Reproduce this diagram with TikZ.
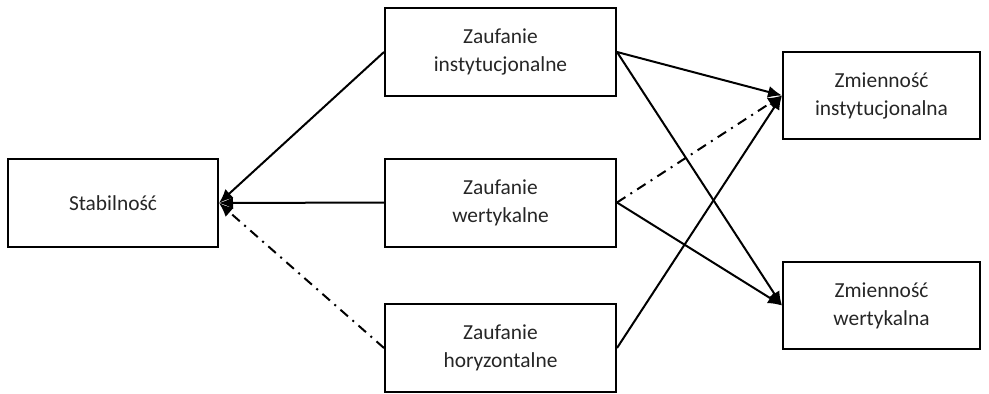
\documentclass[tikz,border=0pt]{standalone}
\usepackage{fontspec}
\setmainfont{Carlito}
\usetikzlibrary{arrows.meta}

\begin{document}
\begin{tikzpicture}[
  x=0.5pt, y=-0.5pt,
  box/.style={rectangle, draw, line width=1pt, minimum height=44pt, align=center,
    font=\fontsize{10.7}{14}\selectfont, text=black!85, inner sep=2pt},
  arrow/.style={-{Latex[length=7pt,width=6pt]}, line width=1pt},
  dashdot/.style={arrow, dash pattern=on 5pt off 3pt on 1pt off 3pt},
]
\useasboundingbox (0,0) rectangle (989,393);

% === Left: outcome ===
\node[box, minimum width=105pt] (stab) at (113, 203) {Stabilność};

% === Middle: kinds of trust ===
\node[box, minimum width=115.5pt] (zinst) at (500.5, 52) {Zaufanie\\instytucjonalne};
\node[box, minimum width=115.5pt] (zwert) at (500.5, 202.5) {Zaufanie\\wertykalne};
\node[box, minimum width=115.5pt] (zhor) at (500.5, 348) {Zaufanie\\horyzontalne};

% === Right: volatility ===
\node[box, minimum width=98.5pt, minimum height=43.5pt] (minst) at (881.5, 95.5) {Zmienność\\instytucjonalna};
\node[box, minimum width=98.5pt, minimum height=43.5pt] (mwert) at (881.5, 305.5) {Zmienność\\wertykalna};

% === Links to stability ===
\draw[arrow] (zinst.west) -- (stab.east);
\draw[arrow] (zwert.west) -- (stab.east);
\draw[dashdot] (zhor.west) -- (stab.east);

% === Links to volatility ===
\draw[arrow] (zinst.east) -- (minst.west);
\draw[arrow] (zinst.east) -- (mwert.west);
\draw[dashdot] (zwert.east) -- (minst.west);
\draw[arrow] (zwert.east) -- (mwert.west);
\draw[arrow] (zhor.east) -- (minst.west);

\end{tikzpicture}
\end{document}
